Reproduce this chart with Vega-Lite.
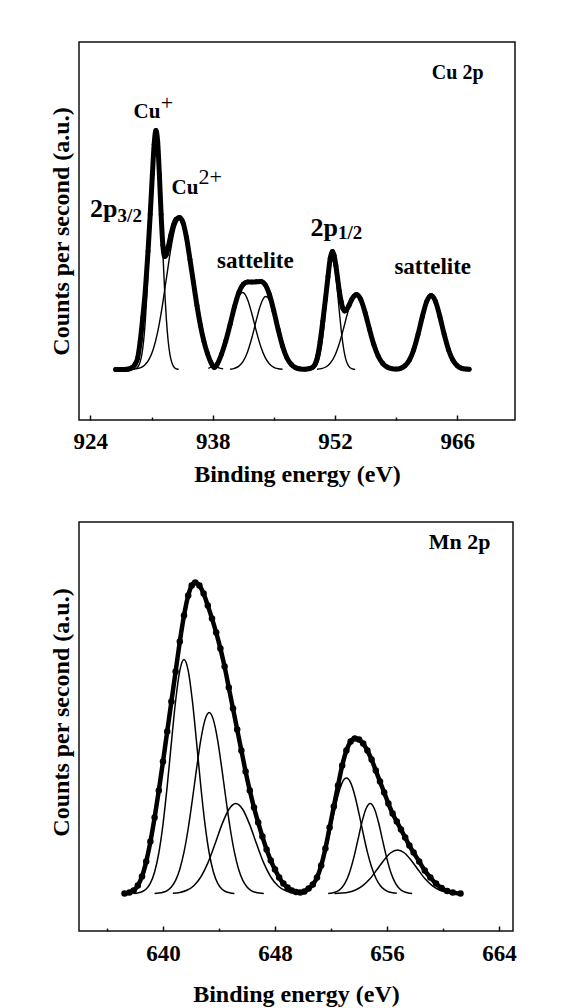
{
"$schema": "https://vega.github.io/schema/vega-lite/v6.json",
"padding": {"left": 48, "top": 41, "right": 5, "bottom": 0},
"spacing": 34,
"background": "white",
"config": {
  "view": {"stroke": "#111111", "strokeWidth": 1.5},
  "font": "Liberation Serif",
  "axis": {"labelFont": "Liberation Serif", "titleFont": "Liberation Serif", "labelFontWeight": "bold", "titleFontWeight": "bold", "labelColor": "#000000", "titleColor": "#000000", "grid": false, "domain": false, "tickColor": "#111111", "labelFontSize": 23, "titleFontSize": 24, "minExtent": 0}
},
"datasets": {
  "cu_env": [
{"x":926.9,"y":0},{"x":927.4,"y":0},{"x":927.9,"y":0},{"x":928.4,"y":0.5},{"x":928.8,"y":2},{"x":929.1,"y":5},{"x":929.4,"y":11},{"x":929.7,"y":28},{"x":930.0,"y":52},{"x":930.3,"y":80},{"x":930.6,"y":118},{"x":930.85,"y":155},{"x":931.1,"y":195},{"x":931.3,"y":225},{"x":931.5,"y":239},{"x":931.7,"y":228},{"x":931.9,"y":195},{"x":932.1,"y":155},{"x":932.3,"y":124},{"x":932.5,"y":113},{"x":932.7,"y":115},{"x":932.9,"y":122},{"x":933.2,"y":134},{"x":933.5,"y":144},{"x":933.8,"y":150},{"x":934.2,"y":152},{"x":934.6,"y":147},{"x":935.0,"y":132},{"x":935.4,"y":110},{"x":935.8,"y":87},{"x":936.2,"y":64},{"x":936.6,"y":44},{"x":937.0,"y":28},{"x":937.4,"y":16},{"x":937.8,"y":7},{"x":938.2,"y":2},{"x":938.5,"y":5},{"x":939.0,"y":15},{"x":939.5,"y":28.6},{"x":940.0,"y":45.3},{"x":940.5,"y":62.9},{"x":941.0,"y":77.1},{"x":941.5,"y":85.2},{"x":942.0,"y":87.6},{"x":942.5,"y":87.4},{"x":943.0,"y":87.7},{"x":943.5,"y":88.0},{"x":944.0,"y":84.9},{"x":944.5,"y":74.9},{"x":945.0,"y":58.5},{"x":945.5,"y":39.8},{"x":946.0,"y":23.2},{"x":946.5,"y":11.5},{"x":947.0,"y":5.0},{"x":947.5,"y":1.8},{"x":948.0,"y":0.6},{"x":948.6,"y":0.3},{"x":949.1,"y":1},{"x":949.4,"y":2},{"x":949.7,"y":5},{"x":950.0,"y":13},{"x":950.3,"y":28},{"x":950.6,"y":48},{"x":950.9,"y":70},{"x":951.2,"y":93},{"x":951.45,"y":111},{"x":951.7,"y":118},{"x":951.9,"y":114},{"x":952.1,"y":104},{"x":952.3,"y":91},{"x":952.5,"y":78},{"x":952.7,"y":68},{"x":952.9,"y":61},{"x":953.1,"y":58.5},{"x":953.3,"y":59.5},{"x":953.6,"y":64},{"x":953.9,"y":69.8},{"x":954.2,"y":73.5},{"x":954.45,"y":75},{"x":954.95,"y":70},{"x":955.45,"y":56.8},{"x":955.95,"y":40.1},{"x":956.45,"y":24.7},{"x":956.95,"y":13.2},{"x":957.45,"y":6.2},{"x":957.95,"y":2.5},{"x":958.45,"y":0.9},{"x":959.0,"y":0.4},{"x":959.5,"y":1.2},{"x":960.0,"y":3.7},{"x":960.5,"y":9.2},{"x":961.0,"y":19.5},{"x":961.5,"y":35},{"x":962.0,"y":53},{"x":962.5,"y":68.1},{"x":963.0,"y":74},{"x":963.5,"y":68.1},{"x":964.0,"y":53},{"x":964.5,"y":35},{"x":965.0,"y":19.5},{"x":965.5,"y":9.2},{"x":966.0,"y":3.7},{"x":966.5,"y":1.2},{"x":967.0,"y":0.4},{"x":967.35,"y":0.2}
  ],
  "cu_comp": [
{"c":"A","x":928.9,"y":0.2},{"c":"A","x":929.1,"y":0.5},{"c":"A","x":929.3,"y":1.3},{"c":"A","x":929.5,"y":3.4},{"c":"A","x":929.7,"y":7.6},{"c":"A","x":929.9,"y":15.4},{"c":"A","x":930.1,"y":29.0},{"c":"A","x":930.3,"y":50.1},{"c":"A","x":930.5,"y":79.6},{"c":"A","x":930.7,"y":116.3},{"c":"A","x":930.9,"y":156.0},{"c":"A","x":931.1,"y":192.7},{"c":"A","x":931.3,"y":218.6},{"c":"A","x":931.5,"y":228},{"c":"A","x":931.7,"y":218.6},{"c":"A","x":931.9,"y":192.7},{"c":"A","x":932.1,"y":156.0},{"c":"A","x":932.3,"y":116.3},{"c":"A","x":932.5,"y":79.6},{"c":"A","x":932.7,"y":50.1},{"c":"A","x":932.9,"y":29.0},{"c":"A","x":933.1,"y":15.4},{"c":"A","x":933.3,"y":7.6},{"c":"A","x":933.5,"y":3.4},{"c":"A","x":933.7,"y":1.3},{"c":"A","x":933.9,"y":0.5},{"c":"A","x":934.1,"y":0.2},
{"c":"B","x":929.2,"y":0.6},{"c":"B","x":929.7,"y":1.7},{"c":"B","x":930.2,"y":4.3},{"c":"B","x":930.7,"y":9.9},{"c":"B","x":931.2,"y":20.3},{"c":"B","x":931.7,"y":37.4},{"c":"B","x":932.2,"y":61.7},{"c":"B","x":932.7,"y":91.0},{"c":"B","x":933.2,"y":120.1},{"c":"B","x":933.7,"y":141.9},{"c":"B","x":934.2,"y":150},{"c":"B","x":934.7,"y":141.9},{"c":"B","x":935.2,"y":120.1},{"c":"B","x":935.7,"y":91.0},{"c":"B","x":936.2,"y":61.7},{"c":"B","x":936.7,"y":37.4},{"c":"B","x":937.2,"y":20.3},{"c":"B","x":937.7,"y":9.9},{"c":"B","x":938.2,"y":4.3},{"c":"B","x":938.7,"y":1.7},{"c":"B","x":939.2,"y":0.6},
{"c":"C","x":937.5,"y":1.2},{"c":"C","x":938.0,"y":3.2},{"c":"C","x":938.5,"y":7.7},{"c":"C","x":939.0,"y":15.9},{"c":"C","x":939.5,"y":28.6},{"c":"C","x":940.0,"y":45.0},{"c":"C","x":940.5,"y":61.7},{"c":"C","x":941.0,"y":73.7},{"c":"C","x":941.4,"y":77},{"c":"C","x":941.5,"y":76.8},{"c":"C","x":942.0,"y":69.8},{"c":"C","x":942.5,"y":55.2},{"c":"C","x":943.0,"y":38.1},{"c":"C","x":943.5,"y":23.0},{"c":"C","x":944.0,"y":12.1},{"c":"C","x":944.5,"y":5.5},{"c":"C","x":945.0,"y":2.2},{"c":"C","x":945.5,"y":0.8},{"c":"C","x":946.0,"y":0.2},
{"c":"D","x":940.0,"y":0.3},{"c":"D","x":940.5,"y":1.2},{"c":"D","x":941.0,"y":3.4},{"c":"D","x":941.5,"y":8.4},{"c":"D","x":942.0,"y":17.8},{"c":"D","x":942.5,"y":32.2},{"c":"D","x":943.0,"y":49.6},{"c":"D","x":943.5,"y":65.0},{"c":"D","x":944.0,"y":72.8},{"c":"D","x":944.1,"y":73},{"c":"D","x":944.5,"y":69.4},{"c":"D","x":945.0,"y":56.3},{"c":"D","x":945.5,"y":39.0},{"c":"D","x":946.0,"y":23.0},{"c":"D","x":946.5,"y":11.5},{"c":"D","x":947.0,"y":5.0},{"c":"D","x":947.5,"y":1.8},{"c":"D","x":948.0,"y":0.6},{"c":"D","x":948.5,"y":0.15},
{"c":"E","x":949.1,"y":0.1},{"c":"E","x":949.3,"y":0.3},{"c":"E","x":949.5,"y":0.9},{"c":"E","x":949.7,"y":2.0},{"c":"E","x":949.9,"y":4.3},{"c":"E","x":950.1,"y":8.4},{"c":"E","x":950.3,"y":15.3},{"c":"E","x":950.5,"y":25.8},{"c":"E","x":950.7,"y":40.1},{"c":"E","x":950.9,"y":57.5},{"c":"E","x":951.1,"y":76.0},{"c":"E","x":951.3,"y":92.9},{"c":"E","x":951.5,"y":104.7},{"c":"E","x":951.7,"y":109},{"c":"E","x":951.9,"y":104.7},{"c":"E","x":952.1,"y":92.9},{"c":"E","x":952.3,"y":76.0},{"c":"E","x":952.5,"y":57.5},{"c":"E","x":952.7,"y":40.1},{"c":"E","x":952.9,"y":25.8},{"c":"E","x":953.1,"y":15.3},{"c":"E","x":953.3,"y":8.4},{"c":"E","x":953.5,"y":4.3},{"c":"E","x":953.7,"y":2.0},{"c":"E","x":953.9,"y":0.9},{"c":"E","x":954.1,"y":0.3},{"c":"E","x":954.3,"y":0.1},
{"c":"F","x":949.95,"y":0.3},{"c":"F","x":950.45,"y":0.9},{"c":"F","x":950.95,"y":2.5},{"c":"F","x":951.45,"y":6.2},{"c":"F","x":951.95,"y":13.2},{"c":"F","x":952.45,"y":24.7},{"c":"F","x":952.95,"y":40.1},{"c":"F","x":953.45,"y":56.8},{"c":"F","x":953.95,"y":70.0},{"c":"F","x":954.45,"y":75},{"c":"F","x":954.95,"y":70.0},{"c":"F","x":955.45,"y":56.8},{"c":"F","x":955.95,"y":40.1},{"c":"F","x":956.45,"y":24.7},{"c":"F","x":956.95,"y":13.2},{"c":"F","x":957.45,"y":6.2},{"c":"F","x":957.95,"y":2.5},{"c":"F","x":958.45,"y":0.9},{"c":"F","x":958.95,"y":0.3}
  ],
  "cu_t_cu": [{"x":928.94,"y":251.5,"t":"Cu"},{"x":933.3,"y":175.8,"t":"Cu"}],
  "cu_t_sup": [{"x":932.07,"y":259.7,"t":"+"},{"x":936.39,"y":185.5,"t":"2+"}],
  "cu_t_2p": [{"x":923.95,"y":152.5,"t":"2p"},{"x":949.2,"y":133.3,"t":"2p"}],
  "cu_t_sub": [{"x":927.12,"y":147.5,"t":"3/2"},{"x":952.35,"y":130.5,"t":"1/2"}],
  "cu_t_sat": [{"x":938.5,"y":101.8,"t":"sattelite"},{"x":958.8,"y":95.2,"t":"sattelite"}],
  "cu_t_title": [{"x":969.0,"y":290.5,"t":"Cu 2p"}],
  "mn_env": [
{"x":637.25,"y":0},{"x":637.6,"y":1},{"x":637.9,"y":3},{"x":638.2,"y":8},{"x":638.5,"y":17},{"x":638.8,"y":32},{"x":639.1,"y":52},{"x":639.4,"y":76},{"x":639.7,"y":103},{"x":640.0,"y":132},{"x":640.3,"y":162},{"x":640.6,"y":192},{"x":640.9,"y":222},{"x":641.2,"y":252},{"x":641.5,"y":278},{"x":641.8,"y":298},{"x":642.05,"y":308},{"x":642.3,"y":311},{"x":642.6,"y":308},{"x":642.9,"y":300},{"x":643.2,"y":288},{"x":643.5,"y":275},{"x":643.8,"y":261},{"x":644.1,"y":245},{"x":644.4,"y":227},{"x":644.7,"y":206},{"x":645.0,"y":185},{"x":645.3,"y":164},{"x":645.6,"y":143},{"x":645.9,"y":122},{"x":646.2,"y":103},{"x":646.5,"y":86},{"x":646.8,"y":71},{"x":647.1,"y":57},{"x":647.4,"y":44},{"x":647.7,"y":33},{"x":648.0,"y":24},{"x":648.3,"y":16},{"x":648.6,"y":10},{"x":648.9,"y":6},{"x":649.2,"y":3},{"x":649.5,"y":1.5},{"x":649.8,"y":1},{"x":650.1,"y":2},{"x":650.4,"y":5},{"x":650.7,"y":9},{"x":651.0,"y":16},{"x":651.3,"y":28},{"x":651.6,"y":45},{"x":651.9,"y":66},{"x":652.2,"y":87},{"x":652.5,"y":108},{"x":652.8,"y":128},{"x":653.1,"y":143},{"x":653.4,"y":152},{"x":653.7,"y":155},{"x":654.0,"y":154},{"x":654.3,"y":150},{"x":654.6,"y":143},{"x":654.9,"y":134},{"x":655.2,"y":123},{"x":655.5,"y":112},{"x":655.8,"y":101},{"x":656.1,"y":90},{"x":656.4,"y":80},{"x":656.7,"y":72},{"x":657.0,"y":64},{"x":657.3,"y":56},{"x":657.6,"y":48},{"x":657.9,"y":41},{"x":658.3,"y":32},{"x":658.7,"y":23},{"x":659.1,"y":16},{"x":659.5,"y":10},{"x":659.9,"y":5.5},{"x":660.3,"y":2.5},{"x":660.7,"y":1},{"x":661.25,"y":0}
  ],
  "mn_comp": [
{"c":"P1","x":637.9,"y":0.2},{"c":"P1","x":638.2,"y":0.7},{"c":"P1","x":638.5,"y":1.8},{"c":"P1","x":638.8,"y":4.5},{"c":"P1","x":639.1,"y":10.4},{"c":"P1","x":639.4,"y":21.6},{"c":"P1","x":639.7,"y":40.6},{"c":"P1","x":640.0,"y":69.3},{"c":"P1","x":640.3,"y":107.4},{"c":"P1","x":640.6,"y":151.0},{"c":"P1","x":640.9,"y":192.6},{"c":"P1","x":641.2,"y":222.9},{"c":"P1","x":641.5,"y":234},{"c":"P1","x":641.8,"y":222.9},{"c":"P1","x":642.1,"y":192.6},{"c":"P1","x":642.4,"y":151.0},{"c":"P1","x":642.7,"y":107.4},{"c":"P1","x":643.0,"y":69.3},{"c":"P1","x":643.3,"y":40.6},{"c":"P1","x":643.6,"y":21.6},{"c":"P1","x":643.9,"y":10.4},{"c":"P1","x":644.2,"y":4.5},{"c":"P1","x":644.5,"y":1.8},{"c":"P1","x":644.8,"y":0.7},{"c":"P1","x":645.1,"y":0.2},
{"c":"P2","x":639.4,"y":0.2},{"c":"P2","x":639.7,"y":0.5},{"c":"P2","x":640.0,"y":1.3},{"c":"P2","x":640.3,"y":3.0},{"c":"P2","x":640.6,"y":6.6},{"c":"P2","x":640.9,"y":13.2},{"c":"P2","x":641.2,"y":24.4},{"c":"P2","x":641.5,"y":41.5},{"c":"P2","x":641.8,"y":65.1},{"c":"P2","x":642.1,"y":94.1},{"c":"P2","x":642.4,"y":125.2},{"c":"P2","x":642.7,"y":153.7},{"c":"P2","x":643.0,"y":173.7},{"c":"P2","x":643.3,"y":181},{"c":"P2","x":643.6,"y":173.7},{"c":"P2","x":643.9,"y":153.7},{"c":"P2","x":644.2,"y":125.2},{"c":"P2","x":644.5,"y":94.1},{"c":"P2","x":644.8,"y":65.1},{"c":"P2","x":645.1,"y":41.5},{"c":"P2","x":645.4,"y":24.4},{"c":"P2","x":645.7,"y":13.2},{"c":"P2","x":646.0,"y":6.6},{"c":"P2","x":646.3,"y":3.0},{"c":"P2","x":646.6,"y":1.3},{"c":"P2","x":646.9,"y":0.5},{"c":"P2","x":647.2,"y":0.2},
{"c":"P3","x":640.7,"y":0.4},{"c":"P3","x":641.2,"y":1.2},{"c":"P3","x":641.7,"y":3.3},{"c":"P3","x":642.2,"y":7.9},{"c":"P3","x":642.7,"y":16.6},{"c":"P3","x":643.2,"y":30.5},{"c":"P3","x":643.7,"y":49.0},{"c":"P3","x":644.2,"y":68.7},{"c":"P3","x":644.7,"y":84.1},{"c":"P3","x":645.2,"y":90},{"c":"P3","x":645.7,"y":84.1},{"c":"P3","x":646.2,"y":68.7},{"c":"P3","x":646.7,"y":49.0},{"c":"P3","x":647.2,"y":30.5},{"c":"P3","x":647.7,"y":16.6},{"c":"P3","x":648.2,"y":7.9},{"c":"P3","x":648.7,"y":3.3},{"c":"P3","x":649.2,"y":1.2},{"c":"P3","x":649.7,"y":0.4},
{"c":"Q1","x":649.5,"y":0.3},{"c":"Q1","x":649.8,"y":0.8},{"c":"Q1","x":650.1,"y":1.9},{"c":"Q1","x":650.4,"y":4.2},{"c":"Q1","x":650.7,"y":8.4},{"c":"Q1","x":651.0,"y":15.6},{"c":"Q1","x":651.3,"y":26.5},{"c":"Q1","x":651.6,"y":41.5},{"c":"Q1","x":651.9,"y":60.0},{"c":"Q1","x":652.2,"y":79.9},{"c":"Q1","x":652.5,"y":98.1},{"c":"Q1","x":652.8,"y":110.9},{"c":"Q1","x":653.1,"y":115.5},{"c":"Q1","x":653.4,"y":110.9},{"c":"Q1","x":653.7,"y":98.1},{"c":"Q1","x":654.0,"y":79.9},{"c":"Q1","x":654.3,"y":60.0},{"c":"Q1","x":654.6,"y":41.5},{"c":"Q1","x":654.9,"y":26.5},{"c":"Q1","x":655.2,"y":15.6},{"c":"Q1","x":655.5,"y":8.4},{"c":"Q1","x":655.8,"y":4.2},{"c":"Q1","x":656.1,"y":1.9},{"c":"Q1","x":656.4,"y":0.8},{"c":"Q1","x":656.7,"y":0.3},
{"c":"Q2","x":651.8,"y":0.2},{"c":"Q2","x":652.1,"y":0.7},{"c":"Q2","x":652.4,"y":1.9},{"c":"Q2","x":652.7,"y":4.8},{"c":"Q2","x":653.0,"y":10.4},{"c":"Q2","x":653.3,"y":20.1},{"c":"Q2","x":653.6,"y":34.5},{"c":"Q2","x":653.9,"y":52.4},{"c":"Q2","x":654.2,"y":70.8},{"c":"Q2","x":654.5,"y":84.8},{"c":"Q2","x":654.8,"y":90},{"c":"Q2","x":655.1,"y":84.8},{"c":"Q2","x":655.4,"y":70.8},{"c":"Q2","x":655.7,"y":52.4},{"c":"Q2","x":656.0,"y":34.5},{"c":"Q2","x":656.3,"y":20.1},{"c":"Q2","x":656.6,"y":10.4},{"c":"Q2","x":656.9,"y":4.8},{"c":"Q2","x":657.2,"y":1.9},{"c":"Q2","x":657.5,"y":0.7},{"c":"Q2","x":657.8,"y":0.2},
{"c":"Q3","x":652.25,"y":0.2},{"c":"Q3","x":652.75,"y":0.5},{"c":"Q3","x":653.25,"y":1.4},{"c":"Q3","x":653.75,"y":3.6},{"c":"Q3","x":654.25,"y":7.7},{"c":"Q3","x":654.75,"y":14.3},{"c":"Q3","x":655.25,"y":23.3},{"c":"Q3","x":655.75,"y":32.9},{"c":"Q3","x":656.25,"y":40.6},{"c":"Q3","x":656.75,"y":43.5},{"c":"Q3","x":657.25,"y":40.6},{"c":"Q3","x":657.75,"y":32.9},{"c":"Q3","x":658.25,"y":23.3},{"c":"Q3","x":658.75,"y":14.3},{"c":"Q3","x":659.25,"y":7.7},{"c":"Q3","x":659.75,"y":3.6},{"c":"Q3","x":660.25,"y":1.4},{"c":"Q3","x":660.75,"y":0.5},{"c":"Q3","x":661.25,"y":0.2}
  ],
  "mn_t_title": [{"x":663.4,"y":344.7,"t":"Mn 2p"}]
},
"vconcat": [
  {
    "width": 436,
    "height": 378,
    "encoding": {
      "x": {"field": "x", "type": "quantitative",
        "scale": {"domain": [922.7, 972.6], "nice": false, "zero": false},
        "axis": {"title": "Binding energy (eV)", "values": [924, 931, 938, 945, 952, 959, 966],
          "labelExpr": "datum.value % 14 === 0 ? datum.label : ''",
          "tickSize": {"condition": {"test": "datum.value % 14 === 0", "value": -5}, "value": -3},
          "tickWidth": 1.5, "labelPadding": 15, "titlePadding": 7, "labelFlush": false, "labelOverlap": false}},
      "y": {"field": "y", "type": "quantitative",
        "scale": {"domain": [-50.5, 327.5], "nice": false, "zero": false},
        "axis": {"title": "Counts per second (a.u.)", "labels": false, "ticks": false, "titlePadding": 6}}
    },
    "layer": [
      {"data": {"name": "cu_comp"}, "mark": {"type": "line", "interpolate": "monotone", "color": "#000000", "strokeWidth": 1.4}, "encoding": {"detail": {"field": "c"}}},
      {"data": {"name": "cu_env"}, "mark": {"type": "line", "interpolate": "monotone", "color": "#000000", "strokeWidth": 5, "strokeCap": "round"}, "encoding": {}},
      {"data": {"name": "cu_env"}, "mark": {"type": "point", "filled": true, "color": "#000000", "size": 24, "opacity": 1}, "encoding": {}},
      {"data": {"name": "cu_t_cu"}, "mark": {"type": "text", "font": "Liberation Serif", "fontWeight": "bold", "fontSize": 21, "align": "left", "baseline": "alphabetic", "color": "#000000"}, "encoding": {"text": {"field": "t"}}},
      {"data": {"name": "cu_t_sup"}, "mark": {"type": "text", "font": "Liberation Serif", "fontWeight": "normal", "fontSize": 22, "align": "left", "baseline": "alphabetic", "color": "#000000"}, "encoding": {"text": {"field": "t"}}},
      {"data": {"name": "cu_t_2p"}, "mark": {"type": "text", "font": "Liberation Serif", "fontWeight": "bold", "fontSize": 26, "align": "left", "baseline": "alphabetic", "color": "#000000"}, "encoding": {"text": {"field": "t"}}},
      {"data": {"name": "cu_t_sub"}, "mark": {"type": "text", "font": "Liberation Serif", "fontWeight": "bold", "fontSize": 19, "align": "left", "baseline": "alphabetic", "color": "#000000"}, "encoding": {"text": {"field": "t"}}},
      {"data": {"name": "cu_t_sat"}, "mark": {"type": "text", "font": "Liberation Serif", "fontWeight": "bold", "fontSize": 23, "align": "left", "baseline": "alphabetic", "color": "#000000"}, "encoding": {"text": {"field": "t"}}},
      {"data": {"name": "cu_t_title"}, "mark": {"type": "text", "font": "Liberation Serif", "fontWeight": "bold", "fontSize": 20, "align": "right", "baseline": "alphabetic", "color": "#000000"}, "encoding": {"text": {"field": "t"}}}
    ]
  },
  {
    "width": 434,
    "height": 409,
    "encoding": {
      "x": {"field": "x", "type": "quantitative",
        "scale": {"domain": [634, 665], "nice": false, "zero": false},
        "axis": {"title": "Binding energy (eV)", "values": [636, 640, 644, 648, 652, 656, 660, 664],
          "labelExpr": "datum.value % 8 === 0 ? datum.label : ''",
          "tickSize": {"condition": {"test": "datum.value % 8 === 0", "value": -5}, "value": -3},
          "tickWidth": 1.5, "labelPadding": 16, "titlePadding": 15, "labelFlush": false, "labelOverlap": false}},
      "y": {"field": "y", "type": "quantitative",
        "scale": {"domain": [-37.4, 371.6], "nice": false, "zero": false},
        "axis": {"title": "Counts per second (a.u.)", "labels": false, "ticks": false, "titlePadding": 6, "titleY": 190}}
    },
    "layer": [
      {"data": {"name": "mn_comp"}, "mark": {"type": "line", "interpolate": "monotone", "color": "#000000", "strokeWidth": 1.5}, "encoding": {"detail": {"field": "c"}}},
      {"data": {"name": "mn_env"}, "mark": {"type": "line", "interpolate": "monotone", "color": "#000000", "strokeWidth": 4.5, "strokeCap": "round"}, "encoding": {}},
      {"data": {"name": "mn_env"}, "mark": {"type": "point", "filled": true, "color": "#000000", "size": 42, "opacity": 1}, "encoding": {}},
      {"data": {"name": "mn_t_title"}, "mark": {"type": "text", "font": "Liberation Serif", "fontWeight": "bold", "fontSize": 22, "align": "right", "baseline": "alphabetic", "color": "#000000"}, "encoding": {"text": {"field": "t"}}}
    ]
  }
]
}
